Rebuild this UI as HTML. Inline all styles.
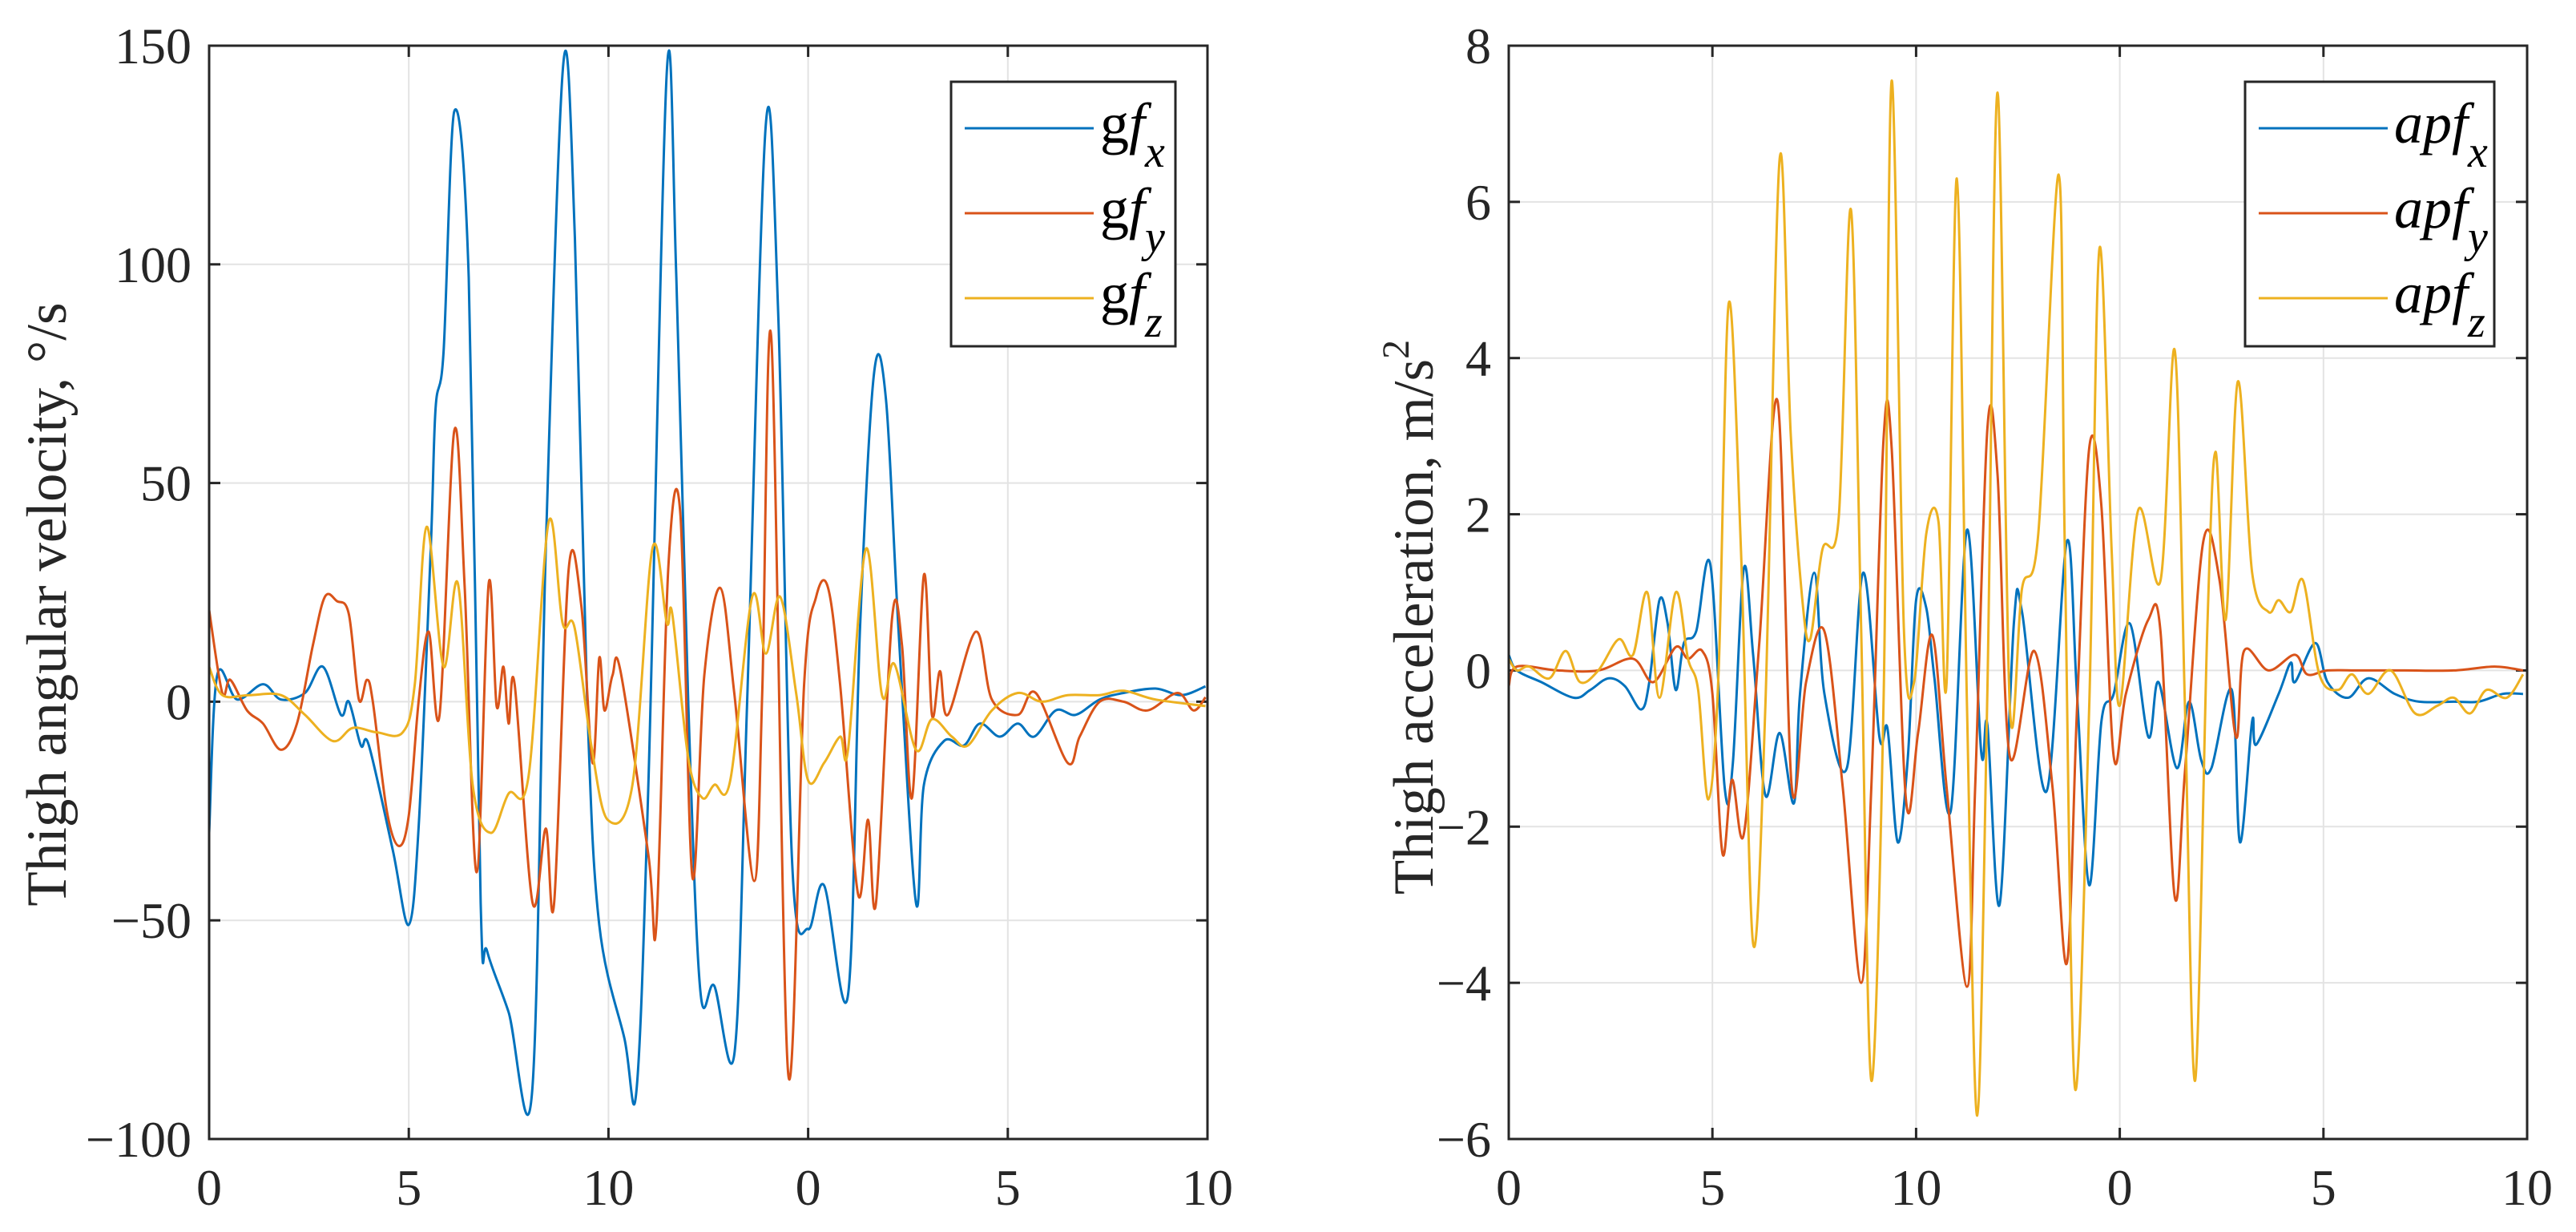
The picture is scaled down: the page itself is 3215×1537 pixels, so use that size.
<!DOCTYPE html>
<html><head><meta charset="utf-8"><style>
html,body{margin:0;padding:0;background:#fff;}
svg{display:block;font-family:"Liberation Serif",serif;}
</style></head><body>
<svg id="chart" width="3215" height="1537" viewBox="0 0 3215 1537"></svg>
<script>
const xTickVals=[0,5,10,15,20,25];
const xTickLabels=["0","5","10","0","5","10"];
const leftYTicks=[-100,-50,0,50,100,150];
const rightYTicks=[-6,-4,-2,0,2,4,6,8];

const gfxT=[0,0.2,0.7,1.35,1.8,2.4,2.85,3.3,3.5,3.8,4,4.6,5,5.25,5.55,5.67,5.87,6.14,6.5,6.8,6.96,7.5,8.09,8.43,8.87,9.16,9.47,9.77,10.4,10.7,11,11.46,11.7,12,12.3,12.65,13.16,13.47,13.94,14.25,14.6,15,15.4,16,16.3,16.65,16.95,17.26,17.7,17.9,18.4,18.9,19.3,19.8,20.25,20.66,21.2,21.7,22.3,22.9,23.7,24.35,24.95];
const gfxV=[-30,6,0.5,4,0.5,2,8,-3,0,-10,-10,-34,-51,-28,35,67,80,135,97,-46,-57,-71,-89,35,146,106,-1,-51,-77,-89,-19,144,97,-1,-66,-65,-80,-1,132,89,-37,-52,-42,-67,17,75,69,17,-46,-19,-9,-10,-5,-8,-5,-8,-2,-3,0.5,2,3,1.5,3.5];
const gfyT=[0,0.33,0.53,0.95,1.35,1.8,2.2,2.6,2.9,3.2,3.5,3.75,3.95,4.1,4.45,4.75,5,5.25,5.5,5.77,6.14,6.4,6.7,7,7.2,7.37,7.5,7.65,8.1,8.43,8.64,9,9.32,9.6,9.77,9.9,10.1,10.3,11,11.2,11.5,11.8,12.1,12.4,12.8,13.15,13.65,13.85,14.08,14.5,14.9,15.2,15.5,15.8,16.25,16.5,16.7,17.1,17.35,17.6,17.9,18.1,18.3,18.5,19.2,19.6,20.25,20.7,21.5,21.8,22.3,22.9,23.5,24.25,24.65,24.95];
const gfyV=[21,2,5,-2,-5,-11,-5,13,24,23,20,0.5,5,0,-25,-33,-26,0.5,16,-3,62,26,-39,27,-1,8,-5,4,-46,-29,-46,30,22,-14,10,-2,6,7,-35,-51,31,43,-40,6,26,2,-41,2,83,-85,4,24,26,4,-44,-27,-46,19,13,-22,29,-3,7,-3,16,0.5,-3,2,-14,-8,0,0,-2,2,-2,1];
const gfzT=[0,0.33,1,1.8,2.4,3.1,3.6,4.2,4.85,5.15,5.45,5.87,6.23,6.6,7.05,7.5,8,8.5,8.85,9.15,9.57,9.98,10.6,11.1,11.46,11.6,12,12.35,12.65,13.05,13.6,13.94,14.3,14.7,15,15.4,15.8,16,16.45,16.85,17.16,17.7,18.1,18.6,19,19.6,20.25,20.85,21.5,22.3,22.9,23.7,24.95];
const gfzV=[8,1.5,1.5,1.5,-3,-9,-6,-7,-7,4,40,8,27,-19,-30,-21,-17,41,18,17,-10,-27,-19,35,18,20,-13,-22,-19,-18,24,11,24,2,-18,-14,-8,-11,35,1.5,8.6,-11,-4,-8,-10,-2,2,0,1.5,1.5,2.5,0.5,-1];

const apxT=[0,0.2,0.8,1.6,2,2.45,2.85,3.25,3.45,3.7,3.9,4.1,4.3,4.6,4.95,5.3,5.5,5.77,6,6.3,6.65,7,7.15,7.5,7.75,8.3,8.7,9.1,9.3,9.55,9.8,10,10.25,10.45,10.85,11.25,11.6,11.75,12.05,12.4,12.6,13.2,13.7,13.95,14.25,14.55,14.85,15.25,15.7,15.95,16.4,16.7,17,17.25,17.75,17.95,18.25,18.35,18.9,19.2,19.3,19.8,20.1,20.6,21.1,21.75,22.35,23.2,23.8,24.4,24.9];
const apxV=[0.2,0,-0.15,-0.35,-0.25,-0.1,-0.2,-0.5,-0.15,0.9,0.6,-0.25,0.35,0.5,1.35,-1.5,-1.2,1.3,0.2,-1.6,-0.8,-1.7,-0.3,1.25,-0.3,-1.25,1.25,-0.85,-0.75,-2.2,-1.1,0.9,0.8,-0.1,-1.8,1.8,-1.05,-0.7,-3,0.6,0.75,-1.55,1.65,-0.3,-2.75,-0.65,-0.3,0.6,-0.85,-0.15,-1.25,-0.4,-1.15,-1.25,-0.25,-2.2,-0.65,-0.95,-0.3,0.1,-0.15,0.35,-0.15,-0.35,-0.1,-0.3,-0.4,-0.4,-0.4,-0.3,-0.3];
const apyT=[0,0.2,1.2,2.2,3.05,3.55,4.1,4.4,4.75,5,5.25,5.48,5.77,6.15,6.6,6.95,7.3,7.75,8.2,8.65,8.9,9.2,9.4,9.75,10.05,10.4,10.75,11.25,11.45,11.75,12,12.3,12.9,13.35,13.7,13.95,14.25,14.55,14.85,15.15,15.7,16,16.35,16.6,17.05,17.45,17.85,18.05,18.65,19.3,19.6,20.1,20.9,22,23.2,24.2,24.9];
const apyV=[-0.2,0.05,0,0,0.15,-0.15,0.3,0.15,0.25,-0.3,-2.35,-1.4,-2.1,0.35,3.45,-1.5,-0.15,0.5,-1.5,-4,-1.5,2.95,2.85,-1.65,-0.8,0.45,-1.5,-4.05,-1.5,3.1,2.5,-1.1,0.25,-1.5,-3.75,-0.5,2.85,2.1,-1.1,-0.3,0.65,0.5,-2.9,-1.3,1.65,1.15,-0.85,0.25,0,0.2,-0.05,0,0,0,0,0.05,0];
const apzT=[0,0.2,0.5,1,1.4,1.75,2.2,2.7,3.05,3.4,3.7,4.1,4.4,4.65,4.9,5.15,5.4,5.7,6,6.3,6.65,6.92,7.2,7.4,7.7,8.1,8.4,8.65,8.9,9.2,9.4,9.7,9.95,10.25,10.55,10.75,11,11.25,11.5,11.75,12,12.3,12.6,13,13.5,13.65,13.9,14.25,14.5,14.8,15,15.45,16,16.35,16.6,16.85,17.15,17.35,17.6,17.9,18.25,18.65,18.9,19.2,19.5,19.9,20.35,20.7,21.1,21.65,22.25,22.8,23.2,23.6,24,24.5,24.9];
const apzV=[0.15,0,0.05,-0.1,0.25,-0.15,0,0.4,0.2,1,-0.35,1,0.15,-0.25,-1.65,-0.05,4.7,1.55,-3.5,-0.45,6.55,3.05,0.95,0.4,1.55,1.95,5.9,0.55,-5.25,-0.45,7.55,0.55,-0.15,1.75,1.9,-0.15,6.3,-0.45,-5.7,-0.25,7.4,-0.45,1.05,1.75,6.35,1.55,-5.35,-0.45,5.4,1.55,-0.45,2.05,1.15,4.1,-0.45,-5.25,0.55,2.8,0.65,3.7,1.25,0.75,0.9,0.75,1.15,-0.05,-0.25,-0.05,-0.3,0,-0.55,-0.45,-0.35,-0.55,-0.25,-0.35,-0.05];

const NS="http://www.w3.org/2000/svg";
const svg=document.getElementById('chart');
function mk(tag,attrs,parent){const e=document.createElementNS(NS,tag);for(const k in attrs)e.setAttribute(k,attrs[k]);(parent||svg).appendChild(e);return e;}
const COLORS=["#0072BD","#D95319","#EDB120"];

function path(T,V,sx,sy){
  const p=T.map((t,i)=>[sx(t),sy(V[i])]);
  let d="M"+p[0][0].toFixed(1)+","+p[0][1].toFixed(1);
  for(let i=0;i<p.length-1;i++){
    const p0=p[Math.max(0,i-1)],p1=p[i],p2=p[i+1],p3=p[Math.min(p.length-1,i+2)];
    const c1x=p1[0]+(p2[0]-p0[0])/6,c1y=p1[1]+(p2[1]-p0[1])/6;
    const c2x=p2[0]-(p3[0]-p1[0])/6,c2y=p2[1]-(p3[1]-p1[1])/6;
    d+=` C${c1x.toFixed(1)},${c1y.toFixed(1)} ${c2x.toFixed(1)},${c2y.toFixed(1)} ${p2[0].toFixed(1)},${p2[1].toFixed(1)}`;
  }
  return d;
}

function panel(cfg){
  const g=mk('g',{});
  
  
  const {x0,x1,y0,y1,ymin,ymax}=cfg;
  const sx=v=>x0+(v-0)/(25-0)*(x1-x0);
  const sy=v=>y1-(v-ymin)/(ymax-ymin)*(y1-y0);
  xTickVals.forEach((v,i)=>{
    const x=sx(v);
    const gl=mk('line',{x1:x,x2:x,y1:y0,y2:y1,stroke:"#e3e3e3","stroke-width":2},g);
    
    
    const t=mk('text',{x:x,y:y1+82,"font-size":64,"text-anchor":"middle",fill:"#262626"},g);
    t.textContent=xTickLabels[i];
    
    
  });
  cfg.yt.forEach(v=>{
    const y=sy(v);
    const gl=mk('line',{x1:x0,x2:x1,y1:y,y2:y,stroke:"#e3e3e3","stroke-width":2},g);
    
    
    const t=mk('text',{x:x0-22,y:y+22,"font-size":64,"text-anchor":"end",fill:"#262626"},g);
    t.textContent=v<0?"\u2212"+Math.abs(v):String(v);
    
    
    mk('line',{x1:x0,x2:x0+14,y1:y,y2:y,stroke:"#262626","stroke-width":3},g);
    mk('line',{x1:x1,x2:x1-14,y1:y,y2:y,stroke:"#262626","stroke-width":3},g);
  });
  xTickVals.forEach(v=>{const x=sx(v);
    mk('line',{x1:x,x2:x,y1:y1,y2:y1-14,stroke:"#262626","stroke-width":3},g);
    mk('line',{x1:x,x2:x,y1:y0,y2:y0+14,stroke:"#262626","stroke-width":3},g);});
  const clipId='clip'+cfg.name;
  const cp=mk('clipPath',{id:clipId},g);
  mk('rect',{x:x0,y:y0,width:x1-x0,height:y1-y0},cp);
  cfg.series.forEach((s,i)=>{
    const pe=mk('path',{d:path(s[0],s[1],sx,sy),fill:"none",stroke:COLORS[i],"stroke-width":3,"stroke-linejoin":"round","clip-path":`url(#${clipId})`},g);
    
    
  });
  const frame=mk('rect',{x:x0,y:y0,width:x1-x0,height:y1-y0,fill:"none",stroke:"#262626","stroke-width":3},g);
  
  
  const yl=mk('text',{x:cfg.ylx,y:cfg.yly,"font-size":71,"text-anchor":"middle",fill:"#262626",transform:`rotate(-90 ${cfg.ylx} ${cfg.yly})`},g);
  yl.innerHTML=cfg.ylabel;
  
  
  const lg=mk('g',{},g);
  
  
  mk('rect',{x:cfg.lx,y:102,width:cfg.lw,height:330,fill:"#fff",stroke:"#262626","stroke-width":3},lg);
  [160,266,372].forEach((yy,i)=>{
    const e=mk('g',{},lg);
    
    
    mk('line',{x1:cfg.lx+17,x2:cfg.lx+178,y1:yy,y2:yy,stroke:COLORS[i],"stroke-width":3},e);
    const t=mk('text',{x:cfg.lx+186,y:yy+18,"font-size":72,fill:"#000"},e);
    t.innerHTML=cfg.legendHtml(["x","y","z"][i]);
  });
}

panel({name:'angular-velocity-panel',x0:261,x1:1507,y0:57,y1:1421,ymin:-100,ymax:150,yt:leftYTicks,
  series:[[gfxT,gfxV],[gfyT,gfyV],[gfzT,gfzV]],labels:['gfx','gfy','gfz'],ylx:82,yly:754,
  ylabel:'Thigh angular velocity, \u00b0/s',lx:1187,lw:280,
  legendHtml:c=>`g<tspan font-style="italic">f</tspan><tspan font-style="italic" font-size="56" dy="30">${c}</tspan>`});
panel({name:'acceleration-panel',x0:1883,x1:3154,y0:57,y1:1421,ymin:-6,ymax:8,yt:rightYTicks,
  series:[[apxT,apxV],[apyT,apyV],[apzT,apzV]],labels:['apfx','apfy','apfz'],ylx:1788,yly:770,
  ylabel:'Thigh acceleration, m/s<tspan font-size="48" dy="-30">2</tspan>',lx:2802,lw:311,
  legendHtml:c=>`<tspan font-style="italic">apf</tspan><tspan font-style="italic" font-size="56" dy="30">${c}</tspan>`});
</script>
</body></html>
